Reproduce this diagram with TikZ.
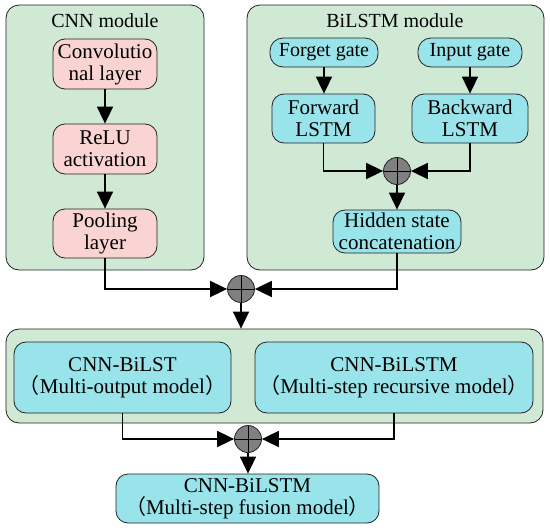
\documentclass[tikz,border=0pt]{standalone}
\usepackage{fontspec}
\setmainfont{Liberation Serif}
\newfontfamily\cjk{Noto Sans CJK SC}
\usetikzlibrary{arrows.meta,positioning,calc}
\definecolor{modgreen}{RGB}{207,233,212}
\definecolor{boxpink}{RGB}{250,211,211}
\definecolor{boxcyan}{RGB}{153,228,234}
\definecolor{sumgray}{RGB}{128,128,128}
\definecolor{edge}{RGB}{35,35,35}
\newcommand{\lp}{{\cjk （}}
\newcommand{\rp}{{\cjk ）}}
\tikzset{
  txt/.style={font=\fontsize{20}{21}\selectfont},
  btxt/.style={font=\fontsize{21}{22}\selectfont},
  module/.style={draw=edge, line width=0.8pt, fill=modgreen, rounded corners=13pt, inner sep=0pt},
  pinkbox/.style={draw=edge, line width=0.8pt, fill=boxpink, rounded corners=12pt, inner sep=0pt, align=center, btxt},
  cyanbox/.style={draw=edge, line width=0.8pt, fill=boxcyan, rounded corners=12pt, inner sep=0pt, align=center, btxt},
  sumnode/.style={circle, draw=edge, line width=0.8pt, fill=sumgray, minimum size=27pt, inner sep=0pt,
    path picture={\draw[black, line width=0.9pt] (path picture bounding box.north) -- (path picture bounding box.south)
      (path picture bounding box.west) -- (path picture bounding box.east);}},
  conn/.style={line width=1.8pt, -{Triangle[width=16pt,length=17pt]}},
}
\begin{document}
\begin{tikzpicture}[x=1pt,y=-1pt]
\useasboundingbox (0,0) rectangle (550,530);
% modules
\node[module, minimum width=198pt, minimum height=265pt] (cnnmod) at (105,137.5) {};
\node[module, minimum width=297pt, minimum height=265pt] (lstmmod) at (395.5,137.5) {};
\node[module, minimum width=537pt, minimum height=94pt] (botmod) at (274.5,376) {};
\node[txt] (cnntitle) at (105,21) {CNN module};
\node[txt] (lstmtitle) at (395,21) {BiLSTM module};
% CNN
\node[pinkbox, minimum width=104pt, minimum height=50pt] (conv) at (105,64) {Convolutio\\nal layer};
\node[pinkbox, minimum width=104pt, minimum height=50pt] (relu) at (105,149) {ReLU\\activation};
\node[pinkbox, minimum width=104pt, minimum height=49pt] (pool) at (105,233.5) {Pooling\\layer};
% BiLSTM
\node[cyanbox, txt, minimum width=108pt, minimum height=29pt, rounded corners=13pt] (forget) at (324,52.5) {Forget gate};
\node[cyanbox, txt, minimum width=104pt, minimum height=29pt, rounded corners=13pt] (input) at (470,52.5) {Input gate};
\node[cyanbox, minimum width=103pt, minimum height=49pt] (forward) at (323.5,118.5) {Forward\\LSTM};
\node[cyanbox, minimum width=116pt, minimum height=49pt] (backward) at (470,118.5) {Backward\\LSTM};
\node[sumnode] (sum1) at (397,171) {};
\node[cyanbox, minimum width=128pt, minimum height=43pt] (hidden) at (397,231.5) {Hidden state\\concatenation};
% merge
\node[sumnode] (sum2) at (241,289) {};
% bottom
\node[cyanbox, minimum width=217pt, minimum height=71pt] (multiout) at (122.5,377.5) {CNN-BiLST\\\lp Multi-output model\rp};
\node[cyanbox, minimum width=278pt, minimum height=71pt] (recur) at (394,377.5) {CNN-BiLSTM\\\lp Multi-step recursive model\rp};
\node[sumnode] (sum3) at (248,439) {};
\node[cyanbox, minimum width=263pt, minimum height=49pt] (final) at (247.5,498.5) {CNN-BiLSTM\\\lp Multi-step fusion model\rp};
% connectors
\draw[conn] (conv.south) -- (relu.north);
\draw[conn] (relu.south) -- (pool.north);
\draw[conn] (forget.south) -- (forward.north -| forget.south);
\draw[conn] (input.south) -- (backward.north -| input.south);
\draw[conn] (forward.south) |- (sum1.west);
\draw[conn] (backward.south) |- (sum1.east);
\draw[conn] (sum1.south) -- (hidden.north);
\draw[conn] (pool.south) |- (sum2.west);
\draw[conn] (hidden.south) |- (sum2.east);
\draw[conn] (sum2.south) -- (botmod.north -| sum2.south);
\draw[conn] (multiout.south) |- (sum3.west);
\draw[conn] (recur.south) |- (sum3.east);
\draw[conn] (sum3.south) -- (final.north -| sum3.south);
\end{tikzpicture}
\end{document}
